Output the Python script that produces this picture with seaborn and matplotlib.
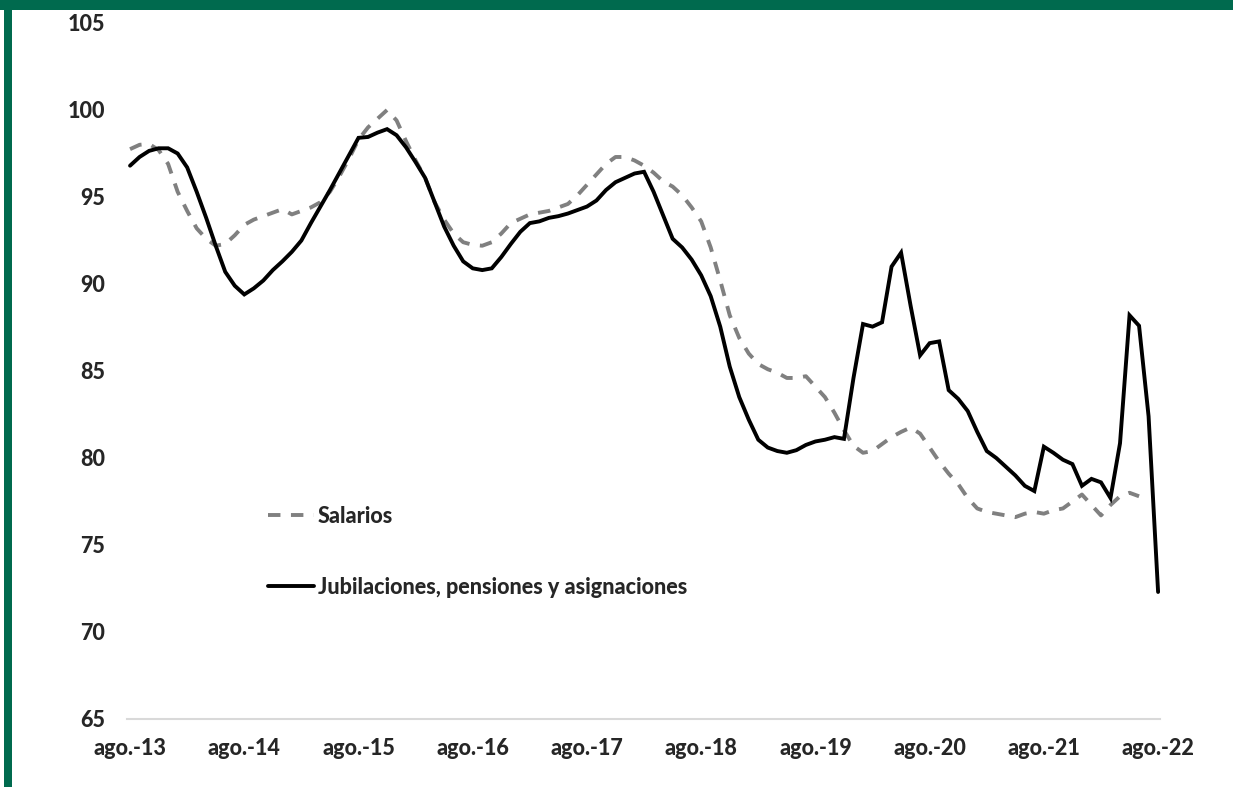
import numpy as np
import pandas as pd
import matplotlib
matplotlib.use("Agg")
import matplotlib.pyplot as plt
from matplotlib.patches import Rectangle
from matplotlib.lines import Line2D
import seaborn as sns

# ---- data (monthly, ago-13 .. ago-22) ----
jubilaciones = [
    96.8, 97.3, 97.65, 97.8, 97.8, 97.5, 96.7, 95.3, 93.8, 92.2,
    90.7, 89.9, 89.4, 89.75, 90.2, 90.8, 91.3, 91.85, 92.5, 93.5,
    94.45, 95.4, 96.4, 97.4, 98.4, 98.45, 98.7, 98.9, 98.55, 97.85,
    97.0, 96.1, 94.7, 93.3, 92.2, 91.3, 90.9, 90.8, 90.9, 91.55,
    92.3, 93.0, 93.5, 93.6, 93.8, 93.9, 94.05, 94.25, 94.45, 94.8,
    95.4, 95.85, 96.1, 96.35, 96.45, 95.3, 93.95, 92.6, 92.1, 91.4,
    90.5, 89.3, 87.55, 85.25, 83.5, 82.2, 81.05, 80.6, 80.4, 80.3,
    80.45, 80.75, 80.95, 81.05, 81.2, 81.1, 84.6, 87.7, 87.55, 87.8,
    91.0, 91.8, 88.75, 85.9, 86.6, 86.7, 83.9, 83.4, 82.7, 81.5,
    80.4, 80.0, 79.5, 79.0, 78.4, 78.1, 80.65, 80.3, 79.9, 79.65,
    78.4, 78.8, 78.6, 77.7, 80.85, 88.2, 87.6, 82.4, 72.3,
]
salarios = [
    97.75, 98.0, 98.05, 97.7, 96.9, 95.3, 94.2, 93.2, 92.6, 92.2,
    92.3, 92.8, 93.4, 93.7, 93.9, 94.1, 94.3, 94.0, 94.2, 94.4,
    94.7, 95.3, 96.2, 97.2, 98.3, 99.0, 99.5, 100.0, 99.4, 98.2,
    97.1, 96.1, 94.7, 93.7, 92.9, 92.4, 92.25, 92.2, 92.4, 92.9,
    93.5, 93.75, 94.0, 94.1, 94.2, 94.4, 94.6, 95.1, 95.7, 96.3,
    96.9, 97.3, 97.3, 97.1, 96.8, 96.4, 95.9, 95.6, 95.1, 94.4,
    93.6, 92.1, 90.2, 88.2, 86.9, 86.0, 85.4, 85.1, 84.9, 84.6,
    84.6, 84.7, 84.1, 83.5, 82.6, 81.6, 80.7, 80.3, 80.4, 80.8,
    81.2, 81.5, 81.75, 81.4, 80.6, 79.8, 79.1, 78.5, 77.7, 77.1,
    76.9, 76.8, 76.7, 76.6, 76.8, 76.9, 76.8, 77.0, 77.1, 77.5,
    77.9, 77.3, 76.7, 77.3, 77.8, 78.0, 77.8, np.nan, np.nan,
]
tick_labels = ["ago.-13", "ago.-14", "ago.-15", "ago.-16", "ago.-17",
               "ago.-18", "ago.-19", "ago.-20", "ago.-21", "ago.-22"]
y_ticks = [65, 70, 75, 80, 85, 90, 95, 100, 105]
name_sal = "Salarios"
name_jub = "Jubilaciones, pensiones y asignaciones"

n = len(jubilaciones)
idx = np.arange(n)
df = pd.DataFrame({
    "mes": np.concatenate([idx, idx]),
    "valor": salarios + jubilaciones,
    "serie": [name_sal] * n + [name_jub] * n,
})

sns.set_theme(style="white")
plt.rcParams["font.family"] = ["Lato", "DejaVu Sans"]
FS = 15.5
FW = 900

fig = plt.figure(figsize=(12.33, 7.87), dpi=100)
W, H = 1233, 787
ax = fig.add_axes([127 / W, 1 - 719 / H, (1160 - 127) / W, (719 - 23) / H])

LW = 2.8
DASH = (3.2, 2.7)
sns.lineplot(
    data=df, x="mes", y="valor", hue="serie", style="serie",
    palette={name_sal: "#808080", name_jub: "#000000"},
    dashes={name_sal: DASH, name_jub: ""},
    linewidth=LW, ax=ax, legend=False, sort=False,
)
for ln in ax.get_lines():
    ln.set_solid_joinstyle("miter")
    ln.set_dash_capstyle("butt")

ax.set_xlim(-0.32, 108.2)
ax.set_ylim(65, 105)
ax.set_yticks(y_ticks)
ax.set_yticklabels([str(v) for v in y_ticks], fontsize=FS, fontweight=FW)
ax.set_xticks(np.arange(0, n, 12))
ax.set_xticklabels(tick_labels, fontsize=FS, fontweight=FW)
ax.tick_params(axis="x", length=0, pad=14)
ax.tick_params(axis="y", length=0, pad=16)
ax.set_xlabel("")
ax.set_ylabel("")
for s in ["top", "right", "left"]:
    ax.spines[s].set_visible(False)
ax.spines["bottom"].set_color("#d9d9d9")
ax.spines["bottom"].set_linewidth(1.5)
ax.grid(False)

# legend
handles = [
    Line2D([], [], color="#808080", lw=LW, dashes=DASH, dash_capstyle="butt"),
    Line2D([], [], color="#000000", lw=LW),
]
leg = fig.legend(handles, [name_sal, name_jub], loc="upper left",
                 bbox_to_anchor=(268 / W, 1 - 506 / H), bbox_transform=fig.transFigure,
                 frameon=False, borderpad=0, borderaxespad=0,
                 handlelength=2.15, handletextpad=0.15, labelspacing=2.3,
                 prop={"size": FS, "weight": FW})

# green frame
green = "#006a4e"
fig.patches.append(Rectangle((0, 1 - 10 / H), 1, 10 / H, transform=fig.transFigure,
                             facecolor=green, edgecolor="none", zorder=10))
fig.patches.append(Rectangle((4 / W, 0), 8 / W, 1 - 10 / H, transform=fig.transFigure,
                             facecolor=green, edgecolor="none", zorder=10))

fig.savefig("out.png", dpi=100)
